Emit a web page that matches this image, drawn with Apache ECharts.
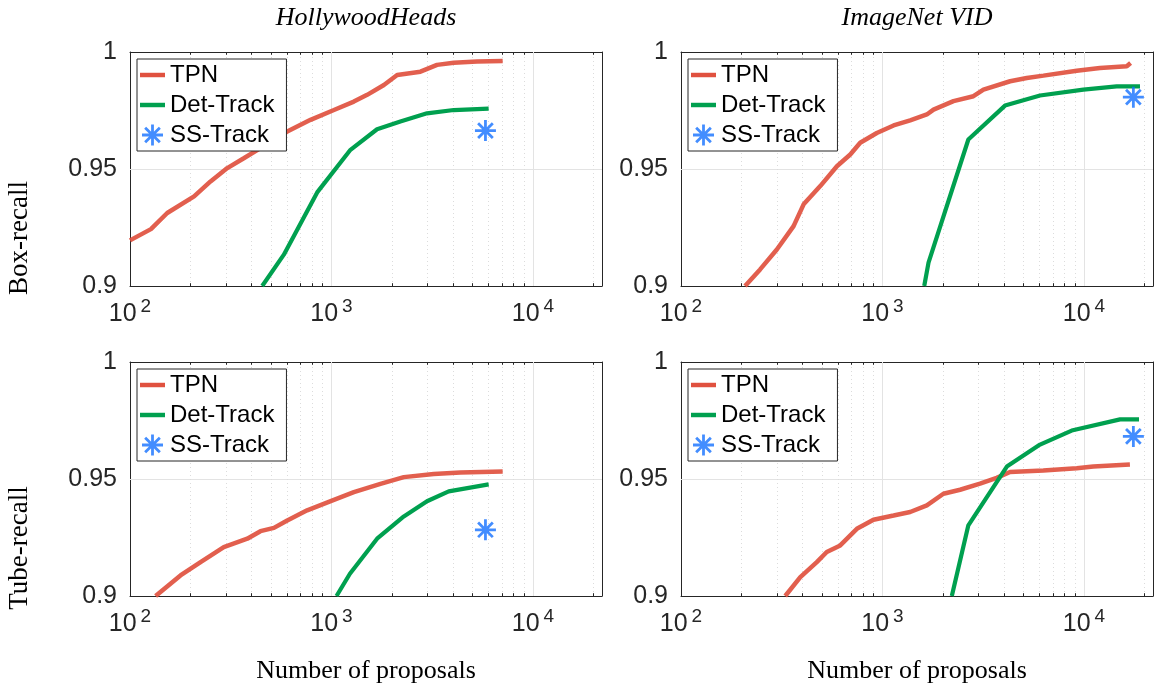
<!DOCTYPE html>
<html>
<head>
<meta charset="utf-8">
<script src="https://cdn.jsdelivr.net/npm/echarts@6/dist/echarts.min.js"></script>
<style>
html,body{margin:0;padding:0;background:#fff;}
#chart{width:1154px;height:691px;}
</style>
</head>
<body>
<div id="chart"></div>
<script>
// ---------- data ----------
const seriesNames = ['TPN', 'Det-Track', 'SS-Track'];
const columnTitles = ['HollywoodHeads', 'ImageNet VID'];
const rowTitles = ['Box-recall', 'Tube-recall'];
const xAxisTitle = 'Number of proposals';
const yTicks = [0.9, 0.95, 1];
const xMajor = [100, 1000, 10000];
const xMinor = [200,300,400,500,600,700,800,900,2000,3000,4000,5000,6000,7000,8000,9000,20000];

const hhBoxTPN = [[100,0.9195],[127,0.9243],[153,0.9312],[208,0.9383],[251,0.9447],[304,0.9504],[367,0.9546],[444,0.9589],[603,0.966],[787,0.971],[1028,0.9752],[1291,0.9788],[1503,0.9817],[1820,0.9859],[2118,0.9902],[2763,0.9916],[3340,0.9945],[4042,0.9954],[5276,0.9959],[7072,0.9962]];
const hhBoxDet = [[453,0.9],[580,0.9134],[849,0.940],[1242,0.9582],[1683,0.967],[2197,0.9703],[2978,0.9738],[4042,0.9752],[6025,0.9758]];
const hhBoxSS = [[5808,0.9664]];

const vidBoxTPN = [[208,0.9],[247,0.9071],[299,0.9156],[362,0.9256],[406,0.9349],[491,0.9427],[594,0.9512],[692,0.9562],[775,0.9612],[937,0.9654],[1135,0.9686],[1372,0.9708],[1660,0.9733],[1792,0.9754],[2250,0.979],[2827,0.9811],[3170,0.9839],[4300,0.9875],[5200,0.9889],[6290,0.9899],[9200,0.992],[12000,0.9932],[16300,0.9939],[17030,0.9953]];
const vidBoxDet = [[1611,0.9],[1692,0.91],[2667,0.9626],[4055,0.9771],[6050,0.9814],[9930,0.9839],[14520,0.9853],[18960,0.9853]];
const vidBoxSS = [[17580,0.9807]];

const hhTubeTPN = [[134,0.9],[178,0.9088],[224,0.9145],[292,0.9209],[382,0.9245],[444,0.9277],[518,0.9291],[603,0.9323],[757,0.9366],[1028,0.9411],[1291,0.9444],[1750,0.9479],[2285,0.9508],[3215,0.9521],[4363,0.9528],[7072,0.9532]];
const hhTubeDet = [[1059,0.9],[1234,0.9095],[1683,0.9245],[2285,0.934],[2978,0.9405],[3817,0.9447],[6025,0.9477]];
const hhTubeSS = [[5808,0.9283]];

const vidTubeTPN = [[329,0.9],[391,0.9081],[472,0.9145],[529,0.9188],[617,0.9216],[746,0.9287],[902,0.9326],[1135,0.9344],[1372,0.9359],[1660,0.9387],[2006,0.9437],[2427,0.9454],[3048,0.948],[3687,0.9505],[4296,0.953],[6280,0.9536],[9200,0.9546],[11120,0.9553],[16900,0.9562]];
const vidTubeDet = [[2208,0.9],[2667,0.9302],[4140,0.9553],[6050,0.9647],[8690,0.9707],[15100,0.9755],[18750,0.9755]];
const vidTubeSS = [[17580,0.9682]];

const panels = [
  [hhBoxTPN, hhBoxDet, hhBoxSS],
  [vidBoxTPN, vidBoxDet, vidBoxSS],
  [hhTubeTPN, hhTubeDet, hhTubeSS],
  [vidTubeTPN, vidTubeDet, vidTubeSS]
];

// ---------- layout / style ----------
const colors = ['#e0513f', '#00a04f', '#1470ff'];
const axisColor = '#262626';
const sans = 'Liberation Sans';
const serif = 'Liberation Serif';
const gridLeft = [130, 681];
const gridTop = [52, 362];
const gridW = 472, gridH = 234;
const xMin = 100, xMax = 22000;
const star = 'path://M10,0L10,20M0,10L20,10M3,3L17,17M17,3L3,17';
const lineIcon = 'path://M0,0L28,0L28,5L0,5Z';

const grid = [], xAxis = [], yAxis = [], series = [], legend = [], graphic = [];

function xLabel(v) {
  const e = Math.round(Math.log10(v));
  if (Math.abs(v - Math.pow(10, e)) > 1e-6 * v) return '';
  return '{b|10}{s|' + e + '}';
}

for (let p = 0; p < 4; p++) {
  const col = p % 2, row = Math.floor(p / 2);
  grid.push({left: gridLeft[col], top: gridTop[row], width: gridW, height: gridH});
  const xb = {
    type: 'log', logBase: 10, gridIndex: p, min: xMin, max: xMax, position: 'bottom',
    axisLine: {show: true, lineStyle: {color: axisColor, width: 1}},
    axisTick: {show: true, inside: true, length: 5, lineStyle: {color: axisColor}},
    splitLine: {show: false},
    axisLabel: {
      show: true, margin: 11, formatter: xLabel, showMinLabel: true, showMaxLabel: false,
      rich: {
        b: {fontSize: 25, fontFamily: sans, color: axisColor, lineHeight: 30, verticalAlign: 'bottom'},
        s: {fontSize: 19, fontFamily: sans, color: axisColor, lineHeight: 14, verticalAlign: 'top', padding: [0, 0, 0, 4]}
      }
    }
  };
  const xt = {
    type: 'log', logBase: 10, gridIndex: p, min: xMin, max: xMax, position: 'top',
    axisLine: {show: true, lineStyle: {color: axisColor, width: 1}},
    axisTick: {show: true, inside: true, length: 5, lineStyle: {color: axisColor}},
    splitLine: {show: false}, axisLabel: {show: false}
  };
  const yl = {
    type: 'value', gridIndex: p, min: 0.9, max: 1, interval: 0.05, position: 'left',
    axisLine: {show: true, lineStyle: {color: axisColor, width: 1}},
    axisTick: {show: true, inside: true, length: 5, lineStyle: {color: axisColor}},
    splitLine: {show: false},
    axisLabel: {show: true, margin: 13, fontSize: 25, fontFamily: sans, color: axisColor,
      formatter: v => String(+v.toFixed(2))}
  };
  const yr = {
    type: 'value', gridIndex: p, min: 0.9, max: 1, interval: 0.05, position: 'right',
    axisLine: {show: true, lineStyle: {color: axisColor, width: 1}},
    axisTick: {show: true, inside: true, length: 5, lineStyle: {color: axisColor}},
    splitLine: {show: false}, axisLabel: {show: false}
  };
  const xi = xAxis.length; xAxis.push(xb, xt);
  const yi = yAxis.length; yAxis.push(yl, yr);

  // gridlines and minor ticks (helper series, not data)
  const mlData = [];
  [1000, 10000].forEach(v => mlData.push({xAxis: v, lineStyle: {color: '#e3e3e3', width: 1, type: 'solid'}}));
  mlData.push({yAxis: 0.95, lineStyle: {color: '#e3e3e3', width: 1, type: 'solid'}});
  xMinor.forEach(v => {
    mlData.push({xAxis: v, lineStyle: {color: '#dcdcdc', width: 1, type: [1, 3]}});
    mlData.push([{coord: [v, 0.9]}, {coord: [v, 0.9012], lineStyle: {color: axisColor, width: 1, type: 'solid'}}]);
    mlData.push([{coord: [v, 1]}, {coord: [v, 0.9988], lineStyle: {color: axisColor, width: 1, type: 'solid'}}]);
  });
  series.push({
    type: 'line', name: 'grid' + p, xAxisIndex: xi, yAxisIndex: yi, data: [], symbol: 'none', silent: true, z: 1,
    markLine: {silent: true, symbol: 'none', label: {show: false}, animation: false, z: 1, data: mlData}
  });

  const d = panels[p];
  series.push({
    type: 'line', name: seriesNames[0], xAxisIndex: xi, yAxisIndex: yi, data: d[0],
    symbol: 'none', showSymbol: false, animation: false, z: 3,
    lineStyle: {color: colors[0], width: 4.5, opacity: 0.92}, itemStyle: {color: colors[0]}
  });
  series.push({
    type: 'line', name: seriesNames[1], xAxisIndex: xi, yAxisIndex: yi, data: d[1],
    symbol: 'none', showSymbol: false, animation: false, z: 3,
    lineStyle: {color: colors[1], width: 4.2}, itemStyle: {color: colors[1]}
  });
  series.push({
    type: 'scatter', name: seriesNames[2], xAxisIndex: xi, yAxisIndex: yi, data: d[2],
    symbol: star, symbolSize: 21, animation: false, z: 4,
    itemStyle: {color: colors[2], borderColor: colors[2], borderWidth: 2.8}
  });

  legend.push({
    data: [
      {name: seriesNames[0], icon: lineIcon, itemStyle: {color: colors[0], borderWidth: 0}},
      {name: seriesNames[1], icon: lineIcon, itemStyle: {color: colors[1], borderWidth: 0}},
      {name: seriesNames[2], icon: star, itemStyle: {color: colors[2], borderColor: colors[2], borderWidth: 2.8}}
    ],
    orient: 'vertical', left: gridLeft[col] + 7, top: gridTop[row] + 7,
    itemWidth: 25, itemHeight: 21, itemGap: 6, padding: [4, 12, 4, 3],
    backgroundColor: '#fff', borderColor: axisColor, borderWidth: 1, borderRadius: 0,
    selectedMode: false, z: 10,
    textStyle: {fontSize: 24, fontFamily: sans, color: '#000', lineHeight: 24}
  });
}

// titles
columnTitles.forEach((t, c) => {
  graphic.push({type: 'text', x: gridLeft[c] + gridW / 2, y: 18,
    style: {text: t, fill: '#000', font: 'italic 26px "Liberation Serif"', align: 'center', verticalAlign: 'middle'}});
  graphic.push({type: 'text', x: gridLeft[c] + gridW / 2, y: 671,
    style: {text: xAxisTitle, fill: '#000', font: '26px "Liberation Serif"', align: 'center', verticalAlign: 'middle'}});
});
rowTitles.forEach((t, r) => {
  graphic.push({type: 'text', x: 20, y: gridTop[r] + 186, rotation: Math.PI / 2,
    style: {text: t, fill: '#000', font: '27px "Liberation Serif"', align: 'center', verticalAlign: 'middle'}});
});

const chart = echarts.init(document.getElementById('chart'), null, {renderer: 'canvas'});
chart.setOption({
  backgroundColor: '#fff',
  animation: false,
  grid, xAxis, yAxis, series, legend, graphic
});
</script>
</body>
</html>
